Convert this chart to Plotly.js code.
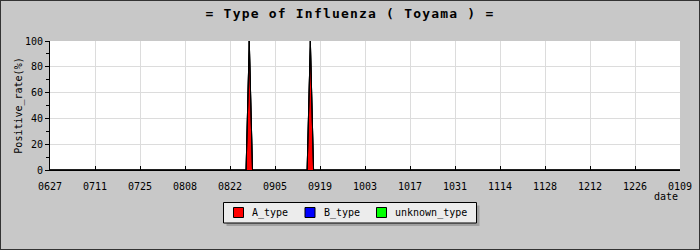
<!DOCTYPE html>
<html>
<head>
<meta charset="utf-8">
<script src="https://cdn.plot.ly/plotly-3.0.1.min.js"></script>
<style>
html,body{margin:0;padding:0;background:#c8c8c8;}
#chart{width:700px;height:250px;box-sizing:border-box;}
#frame{position:absolute;left:0;top:0;width:700px;height:250px;box-sizing:border-box;border:1px solid #333;pointer-events:none;}
.gtitle{letter-spacing:1.2px;}
</style>
</head>
<body>
<div id="chart"></div>
<div id="frame"></div>
<script>
// Data (dates of the observed points; all other days are 0 %)
const dates = ['2023-06-27','2023-08-27','2023-08-28','2023-08-29','2023-09-15','2023-09-16','2023-09-17','2024-01-09'];
const aType = [0, 0, 100, 0, 0, 100, 0, 0];
const bType = [0, 0, 0, 0, 0, 0, 0, 0];
const unknownType = [0, 0, 0, 0, 0, 0, 0, 0];
const seriesNames = ['A_type', 'B_type', 'unknown_type'];
const seriesColors = ['#ff0000', '#0000ff', '#00ff00'];
const titleText = '= Type of Influenza ( Toyama ) =';
const yTitle = 'Positive_rate(%)';
const xTitle = 'date';

const mono = 'DejaVu Sans Mono, monospace';
const values = [aType, bType, unknownType];

// plot area in pixels
const W = 700, H = 250;
const M = {l: 50, r: 20, t: 41, b: 80};
const pw = W - M.l - M.r, ph = H - M.t - M.b;
const px = X => (X - M.l) / pw;
const py = Y => (H - M.b - Y) / ph;

const traces = values.map((v, i) => ({
  type: 'scatter', mode: 'lines', x: dates, y: v,
  stackgroup: 'one', fillcolor: seriesColors[i],
  line: {color: '#000', width: 1},
  name: seriesNames[i], showlegend: false, hoverinfo: 'skip'
}));

// Legend drawn as shapes + annotations
const shapes = [];
const annotations = [];
const lgL = 223.5, lgR = 476.5, lgT = 202.5, lgB = 223;
shapes.push({type: 'rect', xref: 'paper', yref: 'paper', x0: px(lgL + 3), x1: px(lgR + 3), y0: py(lgT + 3), y1: py(lgB + 3),
  fillcolor: '#a0a0a0', line: {width: 0}, layer: 'above'});
shapes.push({type: 'rect', xref: 'paper', yref: 'paper', x0: px(lgL), x1: px(lgR), y0: py(lgT), y1: py(lgB),
  fillcolor: '#ececec', line: {color: '#000', width: 1}, layer: 'above'});
let sx = lgL + 10;
seriesNames.forEach((n, i) => {
  shapes.push({type: 'rect', xref: 'paper', yref: 'paper', x0: px(sx), x1: px(sx + 10), y0: py(207.5), y1: py(217.5),
    fillcolor: seriesColors[i], line: {color: '#000', width: 1}, layer: 'above'});
  const tx = sx + 16.5;
  annotations.push({text: n, xref: 'paper', yref: 'paper', x: px(tx), y: py(212.5), xanchor: 'left', yanchor: 'middle',
    showarrow: false, font: {family: mono, size: 10, color: '#000'}});
  sx = tx + n.length * 6 + 19;
});
annotations.push({text: xTitle, xref: 'paper', yref: 'paper', x: 1, y: py(196), xanchor: 'right', yanchor: 'middle',
  showarrow: false, font: {family: mono, size: 10, color: '#000'}});

const layout = {
  width: W, height: H,
  paper_bgcolor: '#c8c8c8', plot_bgcolor: '#ffffff',
  margin: M,
  font: {family: mono, size: 10, color: '#000'},
  title: {text: titleText, font: {family: mono, size: 13, weight: 'bold', color: '#000'},
          x: 0.5, xref: 'container', y: 1 - 13/250, yref: 'container', yanchor: 'middle'},
  xaxis: {
    type: 'date', range: ['2023-06-27', '2024-01-09'],
    tick0: '2023-06-27', dtick: 14 * 86400000, tickformat: '%m%d',
    ticks: 'inside', ticklen: 4, tickcolor: '#000',
    showgrid: true, gridcolor: '#dcdcdc', gridwidth: 1,
    showline: true, linecolor: '#000', linewidth: 1,
    zeroline: false, fixedrange: true, ticklabelstandoff: 7,
    tickfont: {family: mono, size: 10}
  },
  yaxis: {
    range: [0, 100], dtick: 20, tick0: 0,
    ticks: 'outside', ticklen: 4, tickcolor: '#000',
    minor: {dtick: 10, ticks: 'outside', ticklen: 3, tickcolor: '#000', showgrid: false},
    showgrid: true, gridcolor: '#dcdcdc', gridwidth: 1,
    showline: true, linecolor: '#000', linewidth: 1,
    zeroline: false, fixedrange: true,
    title: {text: yTitle, font: {family: mono, size: 10}, standoff: 0},
    tickfont: {family: mono, size: 10}
  },
  shapes: shapes,
  annotations: annotations,
  showlegend: false
};

Plotly.newPlot('chart', traces, layout, {displayModeBar: false, staticPlot: true});
</script>
</body>
</html>
